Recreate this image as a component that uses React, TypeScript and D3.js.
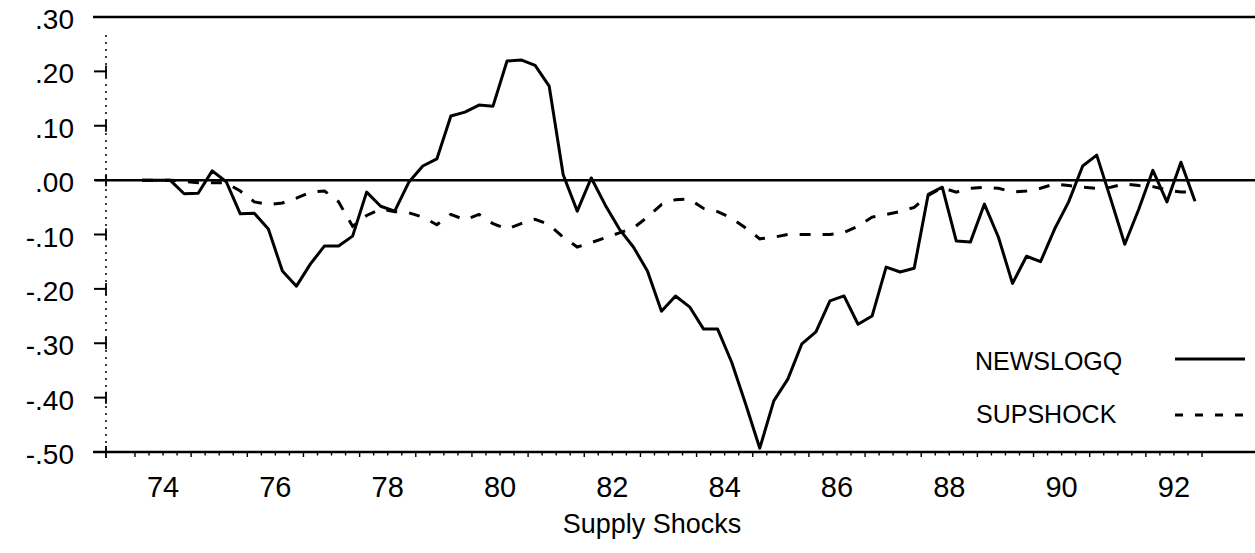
import React from "react";
import * as d3 from "d3";

// ---- data (quarterly, 1974Q1 .. 1992Q4) ----
const startYear = 74;
const newslogq = [
  0, 0, 0, -0.025, -0.024, 0.017, -0.003, -0.062, -0.061, -0.09,
  -0.167, -0.195, -0.154, -0.121, -0.121, -0.103, -0.022, -0.048, -0.057, -0.004,
  0.026, 0.039, 0.118, 0.125, 0.138, 0.136, 0.219, 0.221, 0.211, 0.173,
  0.01, -0.057, 0.004, -0.046, -0.09, -0.123, -0.167, -0.241, -0.213, -0.233,
  -0.274, -0.274, -0.335, -0.412, -0.493, -0.406, -0.366, -0.301, -0.279, -0.222,
  -0.213, -0.265, -0.25, -0.16, -0.169, -0.162, -0.026, -0.013, -0.112, -0.114,
  -0.044, -0.105, -0.19, -0.14, -0.15, -0.09, -0.04, 0.026, 0.046, -0.035,
  -0.118, -0.053, 0.018, -0.04, 0.033, -0.039,
];
const supshock = [
  0, 0, 0, -0.002, -0.005, -0.005, -0.005, -0.02, -0.04, -0.045,
  -0.042, -0.033, -0.022, -0.02, -0.04, -0.085, -0.065, -0.053, -0.058, -0.06,
  -0.068, -0.082, -0.063, -0.073, -0.063, -0.08, -0.09, -0.08, -0.072, -0.082,
  -0.105, -0.123, -0.115, -0.106, -0.097, -0.088, -0.068, -0.045, -0.036, -0.035,
  -0.052, -0.058, -0.07, -0.088, -0.108, -0.105, -0.1, -0.1, -0.1, -0.1,
  -0.096, -0.085, -0.068, -0.063, -0.058, -0.05, -0.028, -0.014, -0.022, -0.015,
  -0.013, -0.015, -0.022, -0.02, -0.015, -0.007, -0.01, -0.013, -0.015, -0.013,
  -0.007, -0.01, -0.012, -0.018, -0.022, -0.022,
];
const xLabels = ["74", "76", "78", "80", "82", "84", "86", "88", "90", "92"];
const yTickValues = [0.3, 0.2, 0.1, 0, -0.1, -0.2, -0.3, -0.4, -0.5];
const yTickLabels = [".30", ".20", ".10", ".00", "-.10", "-.20", "-.30", "-.40", "-.50"];
const seriesNames = ["NEWSLOGQ", "SUPSHOCK"];
const xTitle = "Supply Shocks";

const FONT = "'Liberation Sans', Arial, sans-serif";

export default function App() {
  const W = 1255;
  const H = 553;
  const n = newslogq.length;
  // each quarter plotted at its midpoint (decimal year)
  const tOf = (i: number) => startYear + 0.125 + i * 0.25;
  const x = d3.scaleLinear().domain([tOf(0), tOf(n - 1)]).range([142, 1195]);
  const y = d3.scaleLinear().domain([-0.5, 0.3]).range([452, 17]);

  const line = d3
    .line<number>()
    .x((_, i) => x(tOf(i)))
    .y((d) => y(d));

  const axisX = 106;
  const quarterTicks = d3.range(startYear * 4, (startYear + 19) * 4 + 1).map((q) => q / 4);

  return (
    <svg
      width={W}
      height={H}
      viewBox={`0 0 ${W} ${H}`}
      style={{ position: "absolute", left: 0, top: 0, background: "#fff" }}
    >
      <rect x={0} y={0} width={W} height={H} fill="#fff" />
      {/* frame lines */}
      <line x1={93} x2={W} y1={y(0.3)} y2={y(0.3)} stroke="#000" strokeWidth={2.5} />
      <line x1={95} x2={W} y1={y(0)} y2={y(0)} stroke="#000" strokeWidth={2.5} />
      <line x1={93} x2={W} y1={y(-0.5)} y2={y(-0.5)} stroke="#000" strokeWidth={2.5} />
      {/* dotted vertical axis */}
      <line
        x1={axisX}
        x2={axisX}
        y1={35}
        y2={y(-0.5)}
        stroke="#000"
        strokeWidth={1.5}
        strokeDasharray="2 5"
      />
      {/* y ticks and labels */}
      {yTickValues.map((v, i) => (
        <g key={v}>
          {v !== 0.3 && (
            <>
              <line x1={94} x2={axisX} y1={y(v)} y2={y(v)} stroke="#000" strokeWidth={2} />
              <line x1={axisX} x2={axisX} y1={y(v) - 6} y2={y(v) + 6} stroke="#000" strokeWidth={1.8} />
            </>
          )}
          <text
            x={74}
            y={y(v) + 12}
            textAnchor="end"
            fontFamily={FONT}
            fontSize={28}
            fill="#000"
          >
            {yTickLabels[i]}
          </text>
        </g>
      ))}
      {/* x ticks */}
      {quarterTicks.map((t) => {
        const isYear = Math.abs(t - Math.round(t)) < 1e-9;
        return (
          <line
            key={t}
            x1={x(t)}
            x2={x(t)}
            y1={y(-0.5)}
            y2={y(-0.5) + (isYear ? 5 : 3.5)}
            stroke="#000"
            strokeWidth={1.4}
          />
        );
      })}
      {/* x labels */}
      {xLabels.map((lab) => (
        <text
          key={lab}
          x={x(+lab + 0.5)}
          y={497}
          textAnchor="middle"
          fontFamily={FONT}
          fontSize={29}
          fill="#000"
        >
          {lab}
        </text>
      ))}
      <text x={652} y={533} textAnchor="middle" fontFamily={FONT} fontSize={27} fill="#000">
        {xTitle}
      </text>
      {/* series */}
      <path d={line(supshock) || ""} fill="none" stroke="#000" strokeWidth={3} strokeDasharray="11 12" />
      <path d={line(newslogq) || ""} fill="none" stroke="#000" strokeWidth={3} strokeLinejoin="round" />
      {/* legend */}
      <text x={975} y={370} fontFamily={FONT} fontSize={25} fill="#000">
        {seriesNames[0]}
      </text>
      <line x1={1175} x2={1245} y1={359} y2={359} stroke="#000" strokeWidth={3} />
      <text x={976} y={423} fontFamily={FONT} fontSize={25} fill="#000">
        {seriesNames[1]}
      </text>
      <line x1={1175} x2={1245} y1={415} y2={415} stroke="#000" strokeWidth={3} strokeDasharray="8 12" />
    </svg>
  );
}
